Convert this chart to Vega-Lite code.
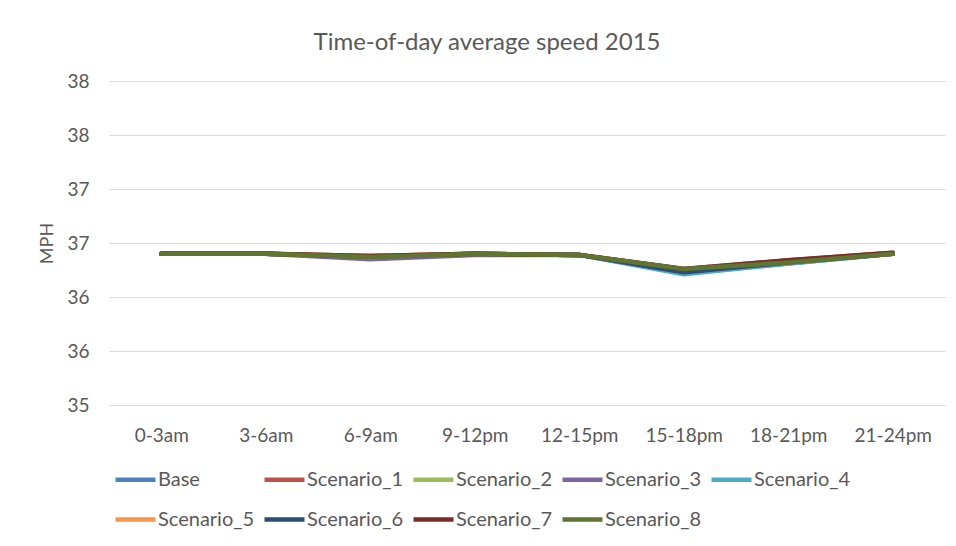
{
  "$schema": "https://vega.github.io/schema/vega-lite/v6.json",
  "width": 836,
  "height": 324,
  "autosize": {"type": "none"},
  "padding": {"left": 109, "top": 81, "right": 11, "bottom": 141},
  "background": "white",
  "title": {
    "text": "Time-of-day average speed 2015",
    "anchor": "middle",
    "dx": -40,
    "offset": 17,
    "font": "Lato",
    "fontSize": 24,
    "fontWeight": "normal",
    "color": "#595959"
  },
  "data": {
    "values": [
      {"series": "Base", "period": "0-3am", "mph": 36.40},
      {"series": "Base", "period": "3-6am", "mph": 36.40},
      {"series": "Base", "period": "6-9am", "mph": 36.37},
      {"series": "Base", "period": "9-12pm", "mph": 36.40},
      {"series": "Base", "period": "12-15pm", "mph": 36.39},
      {"series": "Base", "period": "15-18pm", "mph": 36.22},
      {"series": "Base", "period": "18-21pm", "mph": 36.31},
      {"series": "Base", "period": "21-24pm", "mph": 36.40},
      {"series": "Scenario_1", "period": "0-3am", "mph": 36.40},
      {"series": "Scenario_1", "period": "3-6am", "mph": 36.40},
      {"series": "Scenario_1", "period": "6-9am", "mph": 36.38},
      {"series": "Scenario_1", "period": "9-12pm", "mph": 36.40},
      {"series": "Scenario_1", "period": "12-15pm", "mph": 36.39},
      {"series": "Scenario_1", "period": "15-18pm", "mph": 36.26},
      {"series": "Scenario_1", "period": "18-21pm", "mph": 36.34},
      {"series": "Scenario_1", "period": "21-24pm", "mph": 36.41},
      {"series": "Scenario_2", "period": "0-3am", "mph": 36.40},
      {"series": "Scenario_2", "period": "3-6am", "mph": 36.40},
      {"series": "Scenario_2", "period": "6-9am", "mph": 36.38},
      {"series": "Scenario_2", "period": "9-12pm", "mph": 36.40},
      {"series": "Scenario_2", "period": "12-15pm", "mph": 36.39},
      {"series": "Scenario_2", "period": "15-18pm", "mph": 36.23},
      {"series": "Scenario_2", "period": "18-21pm", "mph": 36.32},
      {"series": "Scenario_2", "period": "21-24pm", "mph": 36.40},
      {"series": "Scenario_3", "period": "0-3am", "mph": 36.40},
      {"series": "Scenario_3", "period": "3-6am", "mph": 36.40},
      {"series": "Scenario_3", "period": "6-9am", "mph": 36.35},
      {"series": "Scenario_3", "period": "9-12pm", "mph": 36.39},
      {"series": "Scenario_3", "period": "12-15pm", "mph": 36.39},
      {"series": "Scenario_3", "period": "15-18pm", "mph": 36.24},
      {"series": "Scenario_3", "period": "18-21pm", "mph": 36.32},
      {"series": "Scenario_3", "period": "21-24pm", "mph": 36.40},
      {"series": "Scenario_4", "period": "0-3am", "mph": 36.40},
      {"series": "Scenario_4", "period": "3-6am", "mph": 36.40},
      {"series": "Scenario_4", "period": "6-9am", "mph": 36.37},
      {"series": "Scenario_4", "period": "9-12pm", "mph": 36.40},
      {"series": "Scenario_4", "period": "12-15pm", "mph": 36.39},
      {"series": "Scenario_4", "period": "15-18pm", "mph": 36.21},
      {"series": "Scenario_4", "period": "18-21pm", "mph": 36.31},
      {"series": "Scenario_4", "period": "21-24pm", "mph": 36.40},
      {"series": "Scenario_5", "period": "0-3am", "mph": 36.40},
      {"series": "Scenario_5", "period": "3-6am", "mph": 36.40},
      {"series": "Scenario_5", "period": "6-9am", "mph": 36.37},
      {"series": "Scenario_5", "period": "9-12pm", "mph": 36.40},
      {"series": "Scenario_5", "period": "12-15pm", "mph": 36.39},
      {"series": "Scenario_5", "period": "15-18pm", "mph": 36.24},
      {"series": "Scenario_5", "period": "18-21pm", "mph": 36.32},
      {"series": "Scenario_5", "period": "21-24pm", "mph": 36.40},
      {"series": "Scenario_6", "period": "0-3am", "mph": 36.40},
      {"series": "Scenario_6", "period": "3-6am", "mph": 36.40},
      {"series": "Scenario_6", "period": "6-9am", "mph": 36.37},
      {"series": "Scenario_6", "period": "9-12pm", "mph": 36.40},
      {"series": "Scenario_6", "period": "12-15pm", "mph": 36.39},
      {"series": "Scenario_6", "period": "15-18pm", "mph": 36.23},
      {"series": "Scenario_6", "period": "18-21pm", "mph": 36.32},
      {"series": "Scenario_6", "period": "21-24pm", "mph": 36.40},
      {"series": "Scenario_7", "period": "0-3am", "mph": 36.40},
      {"series": "Scenario_7", "period": "3-6am", "mph": 36.40},
      {"series": "Scenario_7", "period": "6-9am", "mph": 36.38},
      {"series": "Scenario_7", "period": "9-12pm", "mph": 36.40},
      {"series": "Scenario_7", "period": "12-15pm", "mph": 36.39},
      {"series": "Scenario_7", "period": "15-18pm", "mph": 36.26},
      {"series": "Scenario_7", "period": "18-21pm", "mph": 36.34},
      {"series": "Scenario_7", "period": "21-24pm", "mph": 36.41},
      {"series": "Scenario_8", "period": "0-3am", "mph": 36.40},
      {"series": "Scenario_8", "period": "3-6am", "mph": 36.40},
      {"series": "Scenario_8", "period": "6-9am", "mph": 36.37},
      {"series": "Scenario_8", "period": "9-12pm", "mph": 36.40},
      {"series": "Scenario_8", "period": "12-15pm", "mph": 36.39},
      {"series": "Scenario_8", "period": "15-18pm", "mph": 36.26},
      {"series": "Scenario_8", "period": "18-21pm", "mph": 36.32},
      {"series": "Scenario_8", "period": "21-24pm", "mph": 36.40}
    ]
  },
  "mark": {"type": "line", "strokeWidth": 4.5, "strokeCap": "round", "strokeJoin": "round"},
  "encoding": {
    "x": {
      "field": "period",
      "type": "nominal",
      "sort": ["0-3am", "3-6am", "6-9am", "9-12pm", "12-15pm", "15-18pm", "18-21pm", "21-24pm"],
      "scale": {"type": "point", "padding": 0.5},
      "axis": {
        "title": null,
        "labelAngle": 0,
        "domain": false,
        "ticks": false,
        "grid": false,
        "labelPadding": 21,
        "labelFont": "Lato",
        "labelFontSize": 19,
        "labelColor": "#595959"
      }
    },
    "y": {
      "field": "mph",
      "type": "quantitative",
      "scale": {"domain": [35, 38], "zero": false, "nice": false},
      "axis": {
        "title": "MPH",
        "titleFont": "Lato",
        "titleFontSize": 18,
        "titleFontWeight": "normal",
        "titleColor": "#595959",
        "titlePadding": 10,
        "values": [35, 35.5, 36, 36.5, 37, 37.5, 38],
        "format": ".0f",
        "domain": false,
        "ticks": false,
        "labelPadding": 20,
        "labelFont": "Lato",
        "labelFontSize": 19,
        "labelColor": "#595959",
        "gridColor": "#D9D9D9",
        "gridWidth": 1.2
      }
    },
    "color": {
      "field": "series",
      "type": "nominal",
      "scale": {
        "domain": ["Base", "Scenario_1", "Scenario_2", "Scenario_3", "Scenario_4", "Scenario_5", "Scenario_6", "Scenario_7", "Scenario_8"],
        "range": ["#4F81BD", "#C0504D", "#9BBB59", "#8064A2", "#4BACC6", "#F79646", "#2C4D75", "#772C2A", "#5F7530"]
      },
      "legend": {
        "title": null,
        "orient": "none",
        "legendX": 4,
        "legendY": 376,
        "direction": "horizontal",
        "columns": 5,
        "columnPadding": 0,
        "rowPadding": 7,
        "symbolType": "stroke",
        "symbolSize": 1600,
        "symbolStrokeWidth": 4.5,
        "labelOffset": 0,
        "labelFont": "Lato",
        "labelFontSize": 20,
        "labelColor": "#595959",
        "labelLimit": 200
      }
    }
  },
  "config": {
    "view": {"stroke": null}
  }
}
